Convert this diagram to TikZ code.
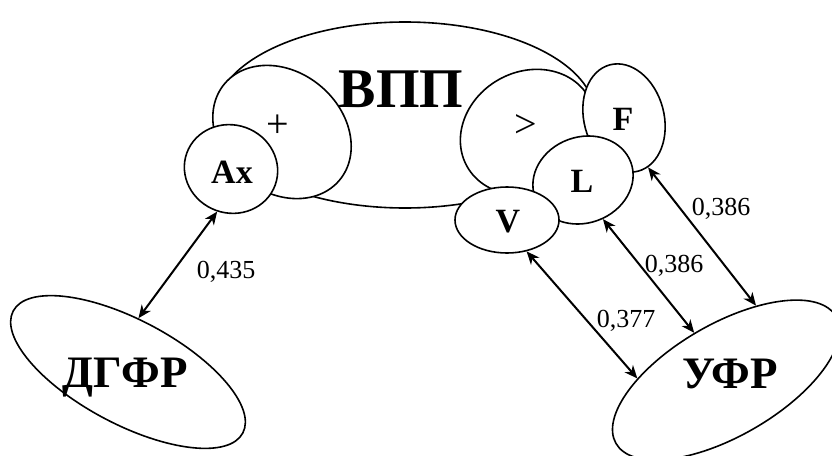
\documentclass[tikz,border=0pt]{standalone}
\usepackage{fontspec}
\setmainfont{Liberation Serif}
\usetikzlibrary{shapes.geometric,arrows.meta}
\begin{document}
\begin{tikzpicture}[x=1pt,y=-1pt,
  blob/.style={ellipse,draw,fill=white,line width=1.6pt,inner sep=0pt},
  lbl/.style={font=\fontsize{26}{26}\selectfont,inner sep=0pt,anchor=base},
  sym/.style={font=\fontsize{40}{40}\selectfont,inner sep=0pt},
  bigtxt/.style={font=\bfseries\fontsize{45}{45}\selectfont,inner sep=0pt,anchor=base},
  midtxt/.style={font=\bfseries\fontsize{34}{34}\selectfont,inner sep=0pt,anchor=base},
  link/.style={line width=2pt,{Stealth[length=13pt,width=11pt,inset=4pt]}-{Stealth[length=13pt,width=11pt,inset=4pt]}}]
\useasboundingbox[fill=white] (0,0) rectangle (832,455);
% ellipses, back to front
\node[blob,minimum width=380pt,minimum height=186pt] (vpp) at (405,115) {};
\node[blob,minimum width=150pt,minimum height=120pt,rotate=-40] (plus) at (282,132) {};
\node[blob,minimum width=94pt,minimum height=88pt,rotate=-20] (ax) at (231,169) {};
\node[blob,minimum width=140pt,minimum height=120pt,rotate=30] (gt) at (528,132) {};
\node[blob,minimum width=80pt,minimum height=110pt,rotate=15] (f) at (624,118) {};
\node[blob,minimum width=102pt,minimum height=86pt,rotate=20] (l) at (583,180) {};
\node[blob,minimum width=104pt,minimum height=66pt] (v) at (507,220) {};
\node[blob,minimum width=260pt,minimum height=104pt,rotate=-28] (dgfr) at (128,372) {};
\node[blob,minimum width=254pt,minimum height=112pt,rotate=30] (ufr) at (726,380) {};
% texts
\node[bigtxt,font=\bfseries\fontsize{56}{56}\selectfont] (tvpp) at (401,107) {ВПП};
\node[sym] (tplus) at (278,126) {+};
\node[sym] (tgt) at (526,126) {>};
\node[midtxt] (tax) at (232,183) {Ax};
\node[midtxt] (tf) at (623,130) {F};
\node[midtxt] (tl) at (582,192) {L};
\node[midtxt] (tv) at (508,232) {V};
\node[bigtxt] (tdgfr) at (125,387) {ДГФР};
\node[bigtxt] (tufr) at (730,388) {УФР};
% connectors
\draw[link] (ax.272) -- (dgfr.107);
\draw[link] (v.-58) -- (ufr.149);
\draw[link] (l.-83) -- (ufr.94);
\draw[link] (f.-79) -- (ufr.38);
% labels
\node[lbl] (k1) at (226,278) {0,435};
\node[lbl] (k2) at (626,327) {0,377};
\node[lbl] (k3) at (674,272) {0,386};
\node[lbl] (k4) at (721,215) {0,386};
\end{tikzpicture}
\end{document}
